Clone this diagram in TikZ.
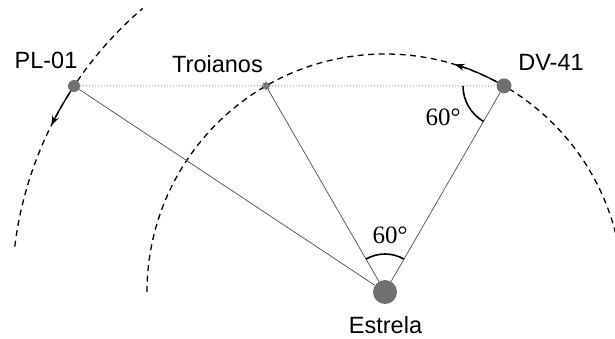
\documentclass[tikz,border=0pt]{standalone}
\usepackage{fontspec}
\setmainfont{Liberation Serif}
\setsansfont{Liberation Sans}
\usetikzlibrary{arrows.meta,shapes.geometric,calc}
\definecolor{planeta}{HTML}{707070}

\begin{document}
\begin{tikzpicture}[x=1pt,y=1pt,>={Stealth[length=10pt,width=7pt]},
  orbita/.style={line width=1.3pt,dash pattern=on 6pt off 4.5pt},
  raio/.style={gray!60!black,line width=0.7pt},
  angulo/.style={line width=1.6pt},
  corpo/.style={circle,fill=planeta,inner sep=0pt},
  rotulo/.style={font=\sffamily\fontsize{23.5}{28}\selectfont},
  grau/.style={font=\fontsize{25}{29}\selectfont}]
\useasboundingbox (0,0) rectangle (615,338);
\coordinate (S) at (385,46);
% orbitas
\draw[orbita] ($(S)+(180:238)$) arc[start angle=180,end angle=14,radius=238];
\draw[orbita] ($(S)+(173:373)$) arc[start angle=173,end angle=130.5,radius=373];
\draw[->,line width=1.3pt] ($(S)+(60:238)$) arc[start angle=60,end angle=73,radius=238];
\draw[->,line width=1.3pt] ($(S)+(146.5:373)$) arc[start angle=146.5,end angle=153.5,radius=373];
% corpos
\node[corpo,minimum size=24pt] (estrela) at (S) {};
\node[corpo,minimum size=15pt] (dv) at ($(S)+(60:238)$) {};
\node[corpo,minimum size=12pt] (pl) at (74,252) {};
\node[star,star points=8,star point ratio=1.8,fill=gray!90!black,minimum size=10pt,inner sep=0pt] (troia) at ($(S)+(120:238)$) {};
% linhas
\draw[gray!80,dotted,line width=1pt] (pl) -- (dv);
\draw[raio] (estrela) -- (pl);
\draw[raio] (estrela) -- (dv);
\draw[raio] (estrela) -- (troia);
% angulos
\draw[angulo] ($(S)+(60:38)$) arc[start angle=60,end angle=120,radius=38];
\draw[angulo] ($(dv.center)+(180:41)$) arc[start angle=180,end angle=240,radius=41];
\node[grau] (a1) at (390,103) {60°};
\node[grau] (a2) at (443,221) {60°};
% nomes
\node[rotulo] (lpl) at (46,278) {PL-01};
\node[rotulo] (ltr) at (217.5,273.5) {Troianos};
\node[rotulo] (ldv) at (551,275.5) {DV-41};
\node[rotulo] (les) at (385.5,12.5) {Estrela};
\end{tikzpicture}
\end{document}
